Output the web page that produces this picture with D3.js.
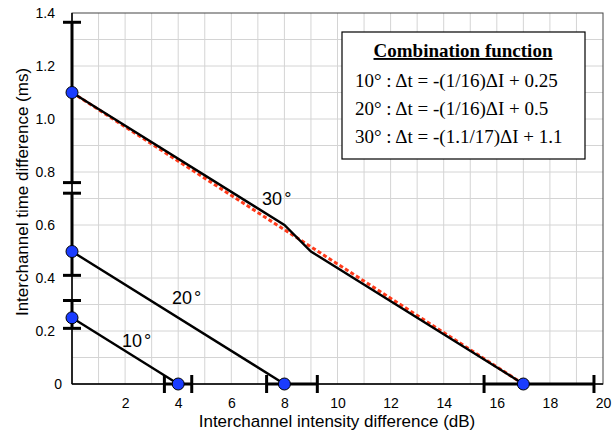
<!DOCTYPE html>
<html><head><meta charset="utf-8">
<script src="https://cdn.jsdelivr.net/npm/d3@7"></script>
<style>body{margin:0;background:#fff}svg{display:block}</style>
</head><body><svg id="c" width="612" height="433"></svg>
<script>
const xTicks = [2,4,6,8,10,12,14,16,18,20];
const yTicks = [0,0.2,0.4,0.6,0.8,1.0,1.2,1.4];
const series = ["10","20","30"];
const lineX10 = [0,4], lineY10 = [0.25,0];
const lineX20 = [0,8], lineY20 = [0.5,0];
const lineX30 = [0,8,9,17], lineY30 = [1.1,0.6,0.5,0];
const fitX30 = [0,17], fitY30 = [1.1,0];
const pointX = [0,4,0,8,0,17], pointY = [0.25,0,0.5,0,1.1,0];
// vertical error bars at ΔI = 0 : low, high
const vErrLow = [0.21,0.41,0.76], vErrHigh = [0.315,0.72,1.365];
// horizontal error bars at Δt = 0 : low, high
const hErrLow = [3.48,7.33,15.52], hErrHigh = [4.51,9.24,19.66];
const labelX = [1.88,3.77,7.16], labelY = [0.14,0.302,0.675];
const legendTitle = "Combination function";
const legendLines = ["10° : Δt = -(1/16)ΔI + 0.25","20° : Δt = -(1/16)ΔI + 0.5","30° : Δt = -(1.1/17)ΔI + 1.1"];

const svg = d3.select("#c");
const x = d3.scaleLinear().domain([0,20]).range([72,603]);
const y = d3.scaleLinear().domain([0,1.4]).range([384,13]);
const sans = "Liberation Sans, Arial, Helvetica, sans-serif";
const serif = "Liberation Serif, Times New Roman, serif";

// grid
const g = svg.append("g");
g.selectAll("line.v").data(d3.range(1,20)).join("line")
 .attr("x1",d=>x(d)).attr("x2",d=>x(d)).attr("y1",y(0)).attr("y2",y(1.4))
 .attr("stroke","#d4d4d4").attr("stroke-width",1);
g.selectAll("line.h").data(d3.range(1,14).map(i=>i/10)).join("line")
 .attr("y1",d=>y(d)).attr("y2",d=>y(d)).attr("x1",x(0)).attr("x2",x(20))
 .attr("stroke","#d4d4d4").attr("stroke-width",1);
// frame
svg.append("rect").attr("x",x(0)).attr("y",y(1.4)).attr("width",x(20)-x(0)).attr("height",y(0)-y(1.4))
 .attr("fill","none").attr("stroke","#444").attr("stroke-width",1);
svg.append("line").attr("x1",x(0)).attr("x2",x(20)).attr("y1",y(0)).attr("y2",y(0)).attr("stroke","#000").attr("stroke-width",1.5);
svg.append("line").attr("x1",x(0)).attr("x2",x(0)).attr("y1",y(0)).attr("y2",y(1.4)).attr("stroke","#000").attr("stroke-width",1.5);

// axes (labels only)
const ax = svg.append("g").attr("transform",`translate(0,${y(0)})`)
 .call(d3.axisBottom(x).tickValues(xTicks).tickSize(0).tickPadding(14).tickFormat(d3.format("d")));
ax.select(".domain").remove();
ax.selectAll("text").attr("font-family",sans).attr("font-size",14).attr("fill","#000");
const ay = svg.append("g").attr("transform",`translate(${x(0)},0)`)
 .call(d3.axisLeft(y).tickValues(yTicks).tickSize(0).tickPadding(17).tickFormat(d=>d===0?"0":d3.format(".1f")(d)));
ay.select(".domain").remove();
ay.selectAll("text").attr("font-family",sans).attr("font-size",14).attr("fill","#000")
 .attr("dx",d=>d===0?7:0);

// fit line (red dashed)
const line = d3.line().x(d=>x(d[0])).y(d=>y(d[1]));
svg.append("path").attr("d",line(d3.zip(fitX30,fitY30))).attr("fill","none")
 .attr("stroke","#ff3a1a").attr("stroke-width",3).attr("stroke-dasharray","4,2.5");
// black lines
[[lineX10,lineY10],[lineX20,lineY20],[lineX30,lineY30]].forEach(([lx,ly])=>{
  svg.append("path").attr("d",line(d3.zip(lx,ly))).attr("fill","none").attr("stroke","#000").attr("stroke-width",2.4);
});

// error bars
const cap = 9;
series.forEach((s,i)=>{
  const ev = svg.append("g").attr("stroke","#000").attr("stroke-width",3);
  ev.append("line").attr("x1",x(0)).attr("x2",x(0)).attr("y1",y(vErrLow[i])).attr("y2",y(vErrHigh[i]));
  [vErrLow[i],vErrHigh[i]].forEach(v=>ev.append("line").attr("x1",x(0)-cap).attr("x2",x(0)+cap).attr("y1",y(v)).attr("y2",y(v)));
  ev.append("line").attr("y1",y(0)).attr("y2",y(0)).attr("x1",x(hErrLow[i])).attr("x2",x(hErrHigh[i]));
  [hErrLow[i],hErrHigh[i]].forEach(v=>ev.append("line").attr("y1",y(0)-cap).attr("y2",y(0)+cap).attr("x1",x(v)).attr("x2",x(v)));
});

// points
svg.selectAll("circle.p").data(d3.zip(pointX,pointY)).join("circle")
 .attr("cx",d=>x(d[0])).attr("cy",d=>y(d[1])).attr("r",6)
 .attr("fill","#1a3cff").attr("stroke","#000").attr("stroke-width",1);

// series labels
const sl = svg.selectAll("text.sl").data(series).join("text")
 .attr("x",(d,i)=>x(labelX[i])).attr("y",(d,i)=>y(labelY[i]))
 .attr("font-family",sans).attr("font-size",18);
sl.append("tspan").text(d=>d);
sl.append("tspan").attr("dx",2).text("°");

// axis titles
svg.append("text").attr("x",337).attr("y",427).attr("text-anchor","middle")
 .attr("font-family",sans).attr("font-size",17).text("Interchannel intensity difference (dB)");
svg.append("text").attr("transform",`translate(28,192) rotate(-90)`).attr("text-anchor","middle")
 .attr("font-family",sans).attr("font-size",17).text("Interchannel time difference (ms)");

// legend
const lg = svg.append("g");
lg.append("rect").attr("x",342).attr("y",32).attr("width",243).attr("height",127).attr("fill","#fff").attr("stroke","#000").attr("stroke-width",1.2);
lg.append("text").attr("x",463).attr("y",57).attr("text-anchor","middle").attr("font-family",serif)
 .attr("font-weight","bold").attr("font-size",19).attr("text-decoration","underline").text(legendTitle);
lg.selectAll("text.l").data(legendLines).join("text").attr("x",355).attr("y",(d,i)=>87+i*28)
 .attr("font-family",serif).attr("font-size",19).text(d=>d);
</script></body></html>
